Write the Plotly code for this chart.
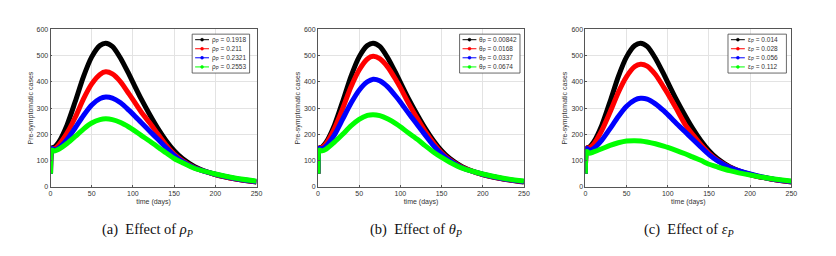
import plotly.graph_objects as go

# time points (days)
t = [0, 1, 2, 5, 10, 20, 30, 40, 50, 60, 67, 75, 85, 95, 100, 110, 121, 130, 140, 150, 160, 175, 200, 225, 250]

# Panel (a): effect of rho_P
a_black = [50, 140, 148, 152, 170, 235, 325, 420, 495, 538, 547, 535, 490, 430, 398, 335, 272, 224, 177, 138, 108, 77, 47, 30, 18]
a_red   = [50, 140, 147, 146, 160, 205, 265, 335, 392, 428, 438, 430, 400, 355, 332, 285, 241, 202, 160, 125, 100, 73, 47, 30, 19]
a_blue  = [50, 140, 146, 140, 148, 180, 225, 272, 312, 336, 342, 338, 320, 292, 277, 245, 210, 182, 150, 120, 97, 72, 48, 31, 20]
a_green = [50, 135, 140, 137, 143, 165, 192, 220, 243, 256, 259, 256, 245, 228, 218, 196, 173, 152, 130, 108, 92, 70, 49, 33, 22]

# Panel (b): effect of theta_P
b_black = [50, 140, 148, 152, 170, 235, 325, 420, 495, 538, 547, 535, 490, 430, 398, 335, 272, 224, 177, 138, 108, 77, 47, 30, 18]
b_red   = [50, 140, 148, 150, 165, 222, 298, 380, 445, 487, 497, 488, 455, 405, 378, 318, 258, 212, 168, 130, 103, 75, 47, 30, 19]
b_blue  = [50, 140, 147, 145, 155, 198, 258, 318, 368, 400, 410, 404, 380, 343, 323, 280, 235, 198, 158, 125, 100, 73, 48, 31, 20]
b_green = [50, 135, 140, 137, 144, 170, 200, 232, 257, 272, 275, 271, 258, 240, 229, 205, 180, 157, 133, 112, 94, 71, 49, 33, 22]

# Panel (c): effect of epsilon_P
c_black = [50, 140, 148, 152, 170, 235, 325, 420, 495, 538, 547, 535, 490, 430, 398, 335, 272, 224, 177, 138, 108, 77, 47, 30, 18]
c_red   = [50, 140, 148, 149, 162, 215, 285, 360, 420, 458, 467, 460, 428, 380, 355, 300, 238, 200, 162, 128, 102, 75, 47, 30, 19]
c_blue  = [50, 140, 146, 139, 146, 178, 222, 268, 307, 331, 337, 334, 316, 290, 275, 243, 210, 182, 152, 123, 100, 74, 49, 31, 20]
c_green = [50, 130, 135, 128, 133, 145, 158, 168, 175, 176, 175, 171, 164, 155, 150, 139, 126, 114, 101, 86, 76, 62, 45, 32, 22]

colors = ["#000000", "#ff0000", "#0000ff", "#00ff00"]
labels_a = ["ρ<sub>P</sub> = 0.1918", "ρ<sub>P</sub> = 0.211", "ρ<sub>P</sub> = 0.2321", "ρ<sub>P</sub> = 0.2553"]
labels_b = ["θ<sub>P</sub> = 0.00842", "θ<sub>P</sub> = 0.0168", "θ<sub>P</sub> = 0.0337", "θ<sub>P</sub> = 0.0674"]
labels_c = ["ε<sub>P</sub> = 0.014", "ε<sub>P</sub> = 0.028", "ε<sub>P</sub> = 0.056", "ε<sub>P</sub> = 0.112"]
captions = ["(a)  Effect of <i>ρ<sub>P</sub></i>", "(b)  Effect of <i>θ<sub>P</sub></i>", "(c)  Effect of <i>ε<sub>P</sub></i>"]

y_ticks = [0, 100, 200, 300, 400, 500, 600]
x_ticks = [0, 50, 100, 150, 200, 250]

W, H = 836, 256
# (plot left px, plot right px, series, labels, legend box left, legend box right, caption centre)
panels = [
    (49, 257, [a_black, a_red, a_blue, a_green], labels_a, 192, 250, 147),
    (319, 527, [b_black, b_red, b_blue, b_green], labels_b, 462, 523, 418),
    (589, 797, [c_black, c_red, c_blue, c_green], labels_c, 733, 792, 694),
]
top_px, bot_px = 26, 188
leg_top, leg_bot = 31, 71
row_y = [36.7, 46, 55.3, 64.7]


def px(x):
    return x / W


def py(y):
    return 1 - y / H


fig = go.Figure()
shapes, annotations = [], []
layout = dict(width=W, height=H, margin=dict(l=0, r=0, t=0, b=0),
              paper_bgcolor="white", plot_bgcolor="white",
              font=dict(family="Liberation Sans, Arial", size=7, color="#333333"),
              showlegend=False)

for i, (x0, x1, series, labels, lx0, lx1, capx) in enumerate(panels):
    sfx = "" if i == 0 else str(i + 1)
    xa, ya = "x" + sfx, "y" + sfx
    for s, col, lab in zip(series, colors, labels):
        fig.add_trace(go.Scatter(x=t, y=s, mode="lines", xaxis=xa, yaxis=ya, name=lab,
                                 line=dict(color=col, width=5, shape="spline", smoothing=0.7),
                                 hoverinfo="skip"))
    axis_common = dict(showgrid=True, gridcolor="#e3e3e3", gridwidth=1,
                       showline=True, linecolor="#555555", linewidth=0.8, mirror=True,
                       ticks="inside", ticklen=2, tickcolor="#555555",
                       tickfont=dict(size=7, color="#333333"), zeroline=False)
    layout["xaxis" + sfx] = dict(domain=[px(x0), px(x1)], anchor=ya, range=[0, 250],
                                 tickvals=x_ticks,
                                 title=dict(text="time (days)", font=dict(size=7), standoff=2),
                                 **axis_common)
    layout["yaxis" + sfx] = dict(domain=[py(bot_px), py(top_px)], anchor=xa, range=[0, 600],
                                 tickvals=y_ticks,
                                 title=dict(text="Pre-symptomatic cases", font=dict(size=7), standoff=2),
                                 **axis_common)
    # legend box
    shapes.append(dict(type="rect", xref="paper", yref="paper",
                       x0=px(lx0), x1=px(lx1), y0=py(leg_bot), y1=py(leg_top),
                       line=dict(color="#444444", width=0.8), fillcolor="white", layer="above"))
    for ry, col, lab in zip(row_y, colors, labels):
        shapes.append(dict(type="line", xref="paper", yref="paper",
                           x0=px(lx0 + 3), x1=px(lx0 + 17), y0=py(ry), y1=py(ry),
                           line=dict(color=col, width=1), layer="above"))
        shapes.append(dict(type="circle", xref="paper", yref="paper",
                           x0=px(lx0 + 8.5), x1=px(lx0 + 11.5), y0=py(ry + 1.5), y1=py(ry - 1.5),
                           line=dict(color=col, width=0.5), fillcolor=col, layer="above"))
        annotations.append(dict(text=lab, x=px(lx0 + 18), y=py(ry), xref="paper", yref="paper",
                                showarrow=False, xanchor="left", yanchor="middle",
                                font=dict(size=6.5, color="#333333")))
    annotations.append(dict(text=captions[i], x=px(capx), y=py(232),
                            xref="paper", yref="paper", showarrow=False,
                            xanchor="center", yanchor="middle",
                            font=dict(family="Liberation Serif, Times New Roman", size=14.5,
                                      color="#111111")))

layout["shapes"] = shapes
layout["annotations"] = annotations
fig.update_layout(**layout)
fig.write_html("out.html", config={"displayModeBar": False},
               post_script="document.body.style.margin='0';")
